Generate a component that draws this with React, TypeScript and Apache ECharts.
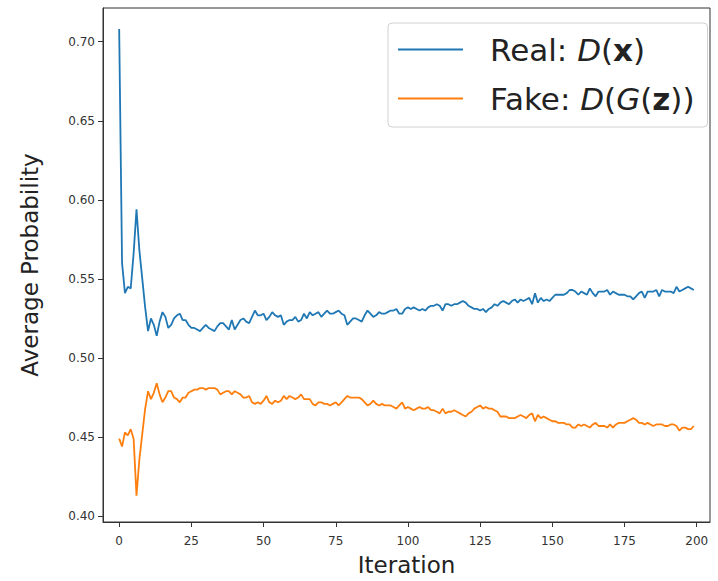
import React, { useEffect, useRef } from "react";
import * as echarts from "echarts";

const xTicks = [0, 25, 50, 75, 100, 125, 150, 175, 200];
const yTicks = [0.4, 0.45, 0.5, 0.55, 0.6, 0.65, 0.7];

const realValues = [
  0.708, 0.56, 0.541, 0.545, 0.544, 0.566, 0.594, 0.568, 0.55, 0.532,
  0.517, 0.525, 0.521, 0.514, 0.523, 0.529, 0.526, 0.519, 0.521, 0.525,
  0.527, 0.528, 0.524, 0.524, 0.521, 0.519, 0.519, 0.518, 0.517, 0.519,
  0.521, 0.519, 0.518, 0.517, 0.52, 0.522, 0.522, 0.52, 0.518, 0.524,
  0.518, 0.521, 0.524, 0.525, 0.523, 0.522, 0.526, 0.53, 0.527, 0.527,
  0.528, 0.524, 0.526, 0.529, 0.527, 0.526, 0.527, 0.521, 0.523, 0.524,
  0.524, 0.526, 0.523, 0.524, 0.528, 0.525, 0.529, 0.527, 0.528, 0.529,
  0.526, 0.528, 0.53, 0.528, 0.528, 0.529, 0.53, 0.528, 0.527, 0.521,
  0.523, 0.525, 0.525, 0.524, 0.523, 0.527, 0.53, 0.528, 0.526, 0.527,
  0.529, 0.528, 0.528, 0.529, 0.53, 0.53, 0.531, 0.528, 0.528, 0.531,
  0.532, 0.531, 0.532, 0.531, 0.53, 0.531, 0.53, 0.532, 0.533, 0.533,
  0.534, 0.533, 0.53, 0.534, 0.534, 0.533, 0.534, 0.534, 0.535, 0.536,
  0.535, 0.533, 0.532, 0.531, 0.531, 0.53, 0.531, 0.529, 0.531, 0.532,
  0.534, 0.533, 0.535, 0.536, 0.535, 0.534, 0.536, 0.537, 0.535, 0.537,
  0.536, 0.537, 0.538, 0.534, 0.541, 0.535, 0.538, 0.536, 0.537, 0.536,
  0.538, 0.54, 0.54, 0.54, 0.54, 0.541, 0.543, 0.543, 0.542, 0.54,
  0.542, 0.541, 0.54, 0.544, 0.541, 0.539, 0.542, 0.542, 0.542, 0.543,
  0.54, 0.542, 0.541, 0.54, 0.54, 0.54, 0.539, 0.539, 0.537, 0.539,
  0.541, 0.542, 0.538, 0.542, 0.542, 0.542, 0.543, 0.539, 0.543, 0.542,
  0.542, 0.542, 0.541, 0.545, 0.542, 0.543, 0.544, 0.545, 0.544, 0.543,
];

const fakeValues = [
  0.449, 0.444, 0.453, 0.451, 0.455, 0.449, 0.413, 0.436, 0.452, 0.468,
  0.479, 0.474, 0.478, 0.484, 0.477, 0.472, 0.475, 0.479, 0.479, 0.475,
  0.474, 0.472, 0.475, 0.475, 0.478, 0.479, 0.48, 0.48, 0.481, 0.481,
  0.48, 0.481, 0.481, 0.481, 0.48, 0.477, 0.478, 0.479, 0.479, 0.477,
  0.479, 0.478, 0.477, 0.475, 0.475, 0.476, 0.472, 0.471, 0.472, 0.471,
  0.473, 0.476, 0.472, 0.471, 0.473, 0.472, 0.473, 0.476, 0.474, 0.476,
  0.475, 0.474, 0.475, 0.477, 0.474, 0.474, 0.474, 0.471, 0.47, 0.472,
  0.472, 0.471, 0.471, 0.47, 0.471, 0.472, 0.47, 0.472, 0.474, 0.476,
  0.475, 0.475, 0.475, 0.475, 0.474, 0.472, 0.47, 0.471, 0.473, 0.471,
  0.47, 0.471, 0.47, 0.47, 0.47, 0.469, 0.468, 0.47, 0.472, 0.468,
  0.469, 0.468, 0.467, 0.468, 0.469, 0.468, 0.468, 0.469, 0.467, 0.467,
  0.466, 0.465, 0.468, 0.465, 0.466, 0.466, 0.467, 0.466, 0.465, 0.464,
  0.463, 0.465, 0.466, 0.468, 0.469, 0.47, 0.468, 0.469, 0.468, 0.468,
  0.467, 0.466, 0.463, 0.463, 0.463, 0.462, 0.462, 0.462, 0.463, 0.464,
  0.463, 0.462, 0.464, 0.465, 0.46, 0.464, 0.462, 0.463, 0.462, 0.461,
  0.46, 0.46, 0.459, 0.459, 0.459, 0.458, 0.458, 0.456, 0.456, 0.458,
  0.457, 0.458, 0.457, 0.456, 0.458, 0.459, 0.457, 0.457, 0.457, 0.456,
  0.458, 0.456, 0.458, 0.459, 0.459, 0.459, 0.46, 0.461, 0.462, 0.461,
  0.459, 0.459, 0.458, 0.459, 0.458, 0.457, 0.458, 0.458, 0.458, 0.457,
  0.457, 0.458, 0.458, 0.457, 0.454, 0.456, 0.456, 0.455, 0.455, 0.457,
];

const seriesNames = ["Real", "Fake"];

export default function App() {
  const ref = useRef<HTMLDivElement>(null);
  useEffect(() => {
    document.body.style.margin = "0";
    const chart = echarts.init(ref.current!, null, { renderer: "svg" });
    const font = "DejaVu Sans";
    const axisColor = "#333";
    const fs = 31;
    const richLegend = {
      sp: { width: 22, fontSize: fs, fontFamily: font },
      n: { fontSize: fs, fontFamily: font, color: "#222" },
      i: { fontSize: fs, fontFamily: font, fontStyle: "italic", color: "#222" },
      b: { fontSize: fs, fontFamily: font, fontWeight: "bold", color: "#222" },
    };
    chart.setOption({
      animation: false,
      backgroundColor: "#fff",
      grid: {
        left: 103,
        right: 8,
        top: 8,
        bottom: 50,
        show: true,
        borderColor: axisColor,
        borderWidth: 1,
        backgroundColor: "transparent",
      },
      legend: {
        orient: "vertical",
        left: 388,
        top: 23,
        padding: [11, 13, 13, 10],
        itemGap: 18,
        itemWidth: 65,
        itemHeight: 2,
        icon: "rect",
        backgroundColor: "#fff",
        borderColor: "#d0d0d0",
        borderWidth: 1,
        borderRadius: 4,
        data: seriesNames,
        formatter: (name: string) =>
          name === "Real"
            ? "{sp| }{n|Real: }{i|D}{n|(}{b|x}{n|)}"
            : "{sp| }{n|Fake: }{i|D}{n|(}{i|G}{n|(}{b|z}{n|))}",
        textStyle: { fontSize: fs, fontFamily: font, rich: richLegend },
      },
      xAxis: {
        type: "value",
        min: -5.6,
        max: 204.6,
        name: "Iteration",
        nameLocation: "middle",
        nameGap: 31,
        nameTextStyle: { fontSize: 23, fontFamily: font, color: "#222" },
        splitLine: { show: false },
        axisLine: { show: true, onZero: false, lineStyle: { color: axisColor, width: 1 } },
        axisTick: {
          show: true,
          length: 5,
          inside: false,
          customValues: xTicks,
          lineStyle: { color: axisColor },
        },
        axisLabel: {
          customValues: xTicks,
          fontSize: 12,
          fontFamily: font,
          color: "#333",
          margin: 13,
          formatter: (v: number) => String(v),
        },
      },
      yAxis: {
        type: "value",
        min: 0.3963,
        max: 0.7213,
        name: "Average Probability",
        nameLocation: "middle",
        nameGap: 62,
        nameTextStyle: { fontSize: 23, fontFamily: font, color: "#222" },
        splitLine: { show: false },
        axisLine: { show: true, onZero: false, lineStyle: { color: axisColor, width: 1 } },
        axisTick: {
          show: true,
          length: 5,
          customValues: yTicks,
          lineStyle: { color: axisColor },
        },
        axisLabel: {
          customValues: yTicks,
          fontSize: 12,
          fontFamily: font,
          color: "#333",
          margin: 8,
          formatter: (v: number) => v.toFixed(2),
        },
      },
      series: [
        {
          name: "Real",
          type: "line",
          symbol: "none",
          color: "#1f77b4",
          lineStyle: { width: 1.8, color: "#1f77b4" },
          data: realValues.map((v, i) => [i, v]),
        },
        {
          name: "Fake",
          type: "line",
          symbol: "none",
          color: "#ff7f0e",
          lineStyle: { width: 1.8, color: "#ff7f0e" },
          data: fakeValues.map((v, i) => [i, v]),
        },
      ],
    });
    return () => chart.dispose();
  }, []);
  return <div ref={ref} style={{ width: 718, height: 581 }} />;
}
